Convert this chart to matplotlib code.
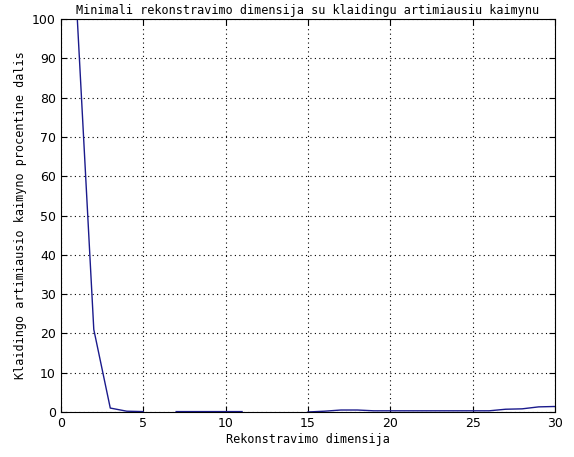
import numpy as np
import matplotlib.pyplot as plt

# dimensijos ir klaidingu kaimynu procentai
dims = np.arange(1, 31)
fnn = [100, 21, 1.0, 0.2, 0.1, np.nan, 0.1, 0.1, 0.1, 0.1,
       0.1, np.nan, np.nan, np.nan, 0.0, 0.2, 0.5, 0.5, 0.3, 0.3,
       0.3, 0.3, 0.3, 0.3, 0.3, 0.3, 0.7, 0.8, 1.3, 1.4]

x_ticks = [0, 5, 10, 15, 20, 25, 30]
y_ticks = list(range(0, 101, 10))

fig = plt.figure(figsize=(5.74, 4.57), dpi=100)
ax = fig.add_axes([0.106, 0.0985, 0.861, 0.8595])

ax.plot(dims, fnn, color='#1a1a8c', linewidth=1.0)

ax.set_xlim(0, 30)
ax.set_ylim(0, 100)
ax.set_xticks(x_ticks)
ax.set_yticks(y_ticks)
ax.tick_params(direction='in', top=True, right=True, length=4, labelsize=9)
ax.grid(True, color='black', linestyle=(0, (1, 3)), linewidth=0.8)

mono = 'DejaVu Sans Mono'
ax.set_title('Minimali rekonstravimo dimensija su klaidingu artimiausiu kaimynu',
             fontsize=8.5, family=mono, pad=4)
ax.set_xlabel('Rekonstravimo dimensija', fontsize=8.5, family=mono, labelpad=2)
ax.set_ylabel('Klaidingo artimiausio kaimyno procentine dalis', fontsize=8.5,
              family=mono, labelpad=4)

fig.savefig('out.png', dpi=100)
